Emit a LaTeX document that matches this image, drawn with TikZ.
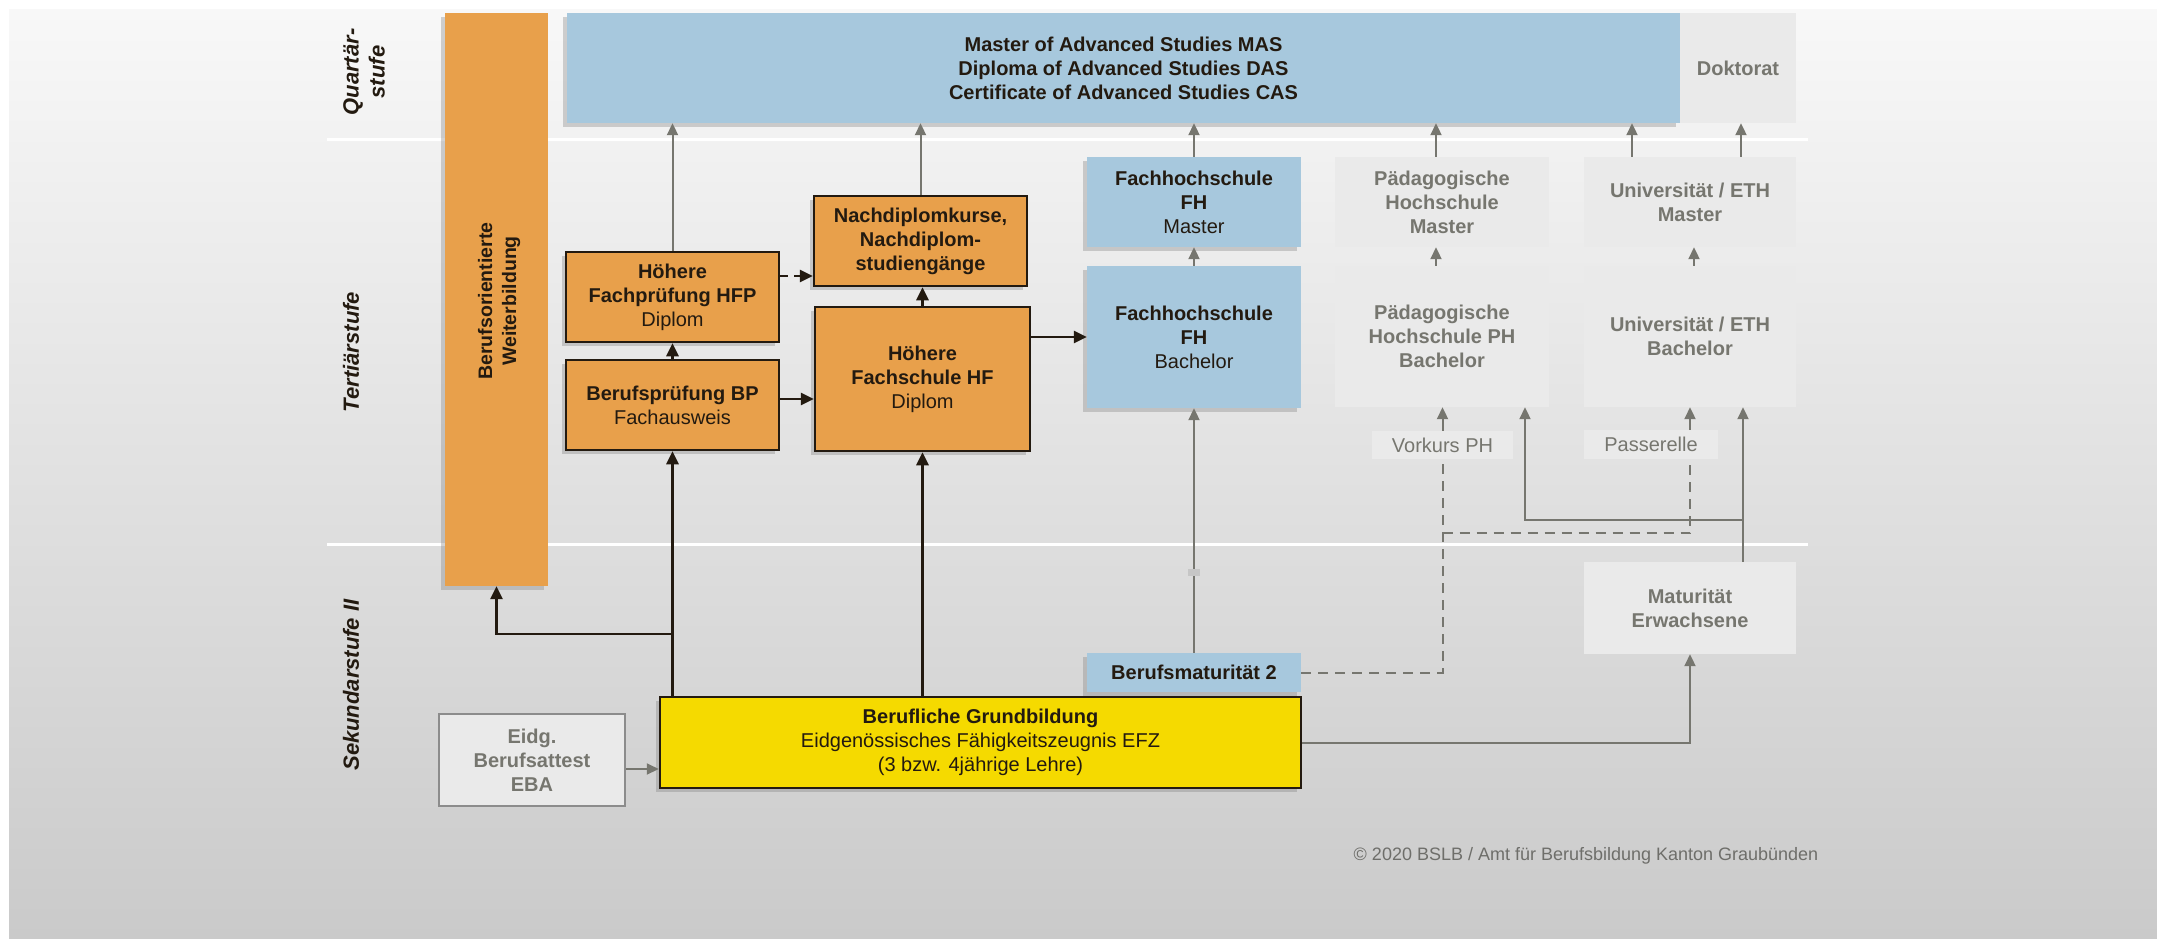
\documentclass[tikz,border=0pt]{standalone}
\usepackage{fontspec}
\setmainfont{Liberation Sans}
\usetikzlibrary{arrows.meta,shadows,calc}
\definecolor{orng}{HTML}{E8A04B}
\definecolor{blu}{HTML}{A7C8DD}
\definecolor{yel}{HTML}{F5DA00}
\definecolor{lgr}{HTML}{EAEAEA}
\definecolor{gtx}{HTML}{76766F}
\definecolor{garr}{HTML}{76766F}
\definecolor{dk}{HTML}{231A10}
\definecolor{gbrd}{HTML}{8C8C8C}
\definecolor{bgtop}{HTML}{F8F8F8}
\definecolor{bgbot}{HTML}{CACACA}
\definecolor{cpy}{HTML}{6E6E6A}
\tikzset{
  box/.style={rectangle, inner sep=0pt, align=center, text=dk, font=\fontsize{20}{24}\selectfont},
  shd/.style={drop shadow={shadow xshift=-4pt, shadow yshift=-4pt, opacity=0.35}},
  orbox/.style={box, fill=orng, draw=dk, line width=2.5pt, shd},
  blbox/.style={box, fill=blu, shd},
  yelbox/.style={box, fill=yel, draw=dk, line width=2.5pt, shd},
  lgbox/.style={box, fill=lgr, text=gtx},
  side/.style={rotate=90, align=center, text=dk, font=\bfseries\itshape\fontsize{22}{26}\selectfont},
  blk/.style={draw=dk, line width=2.8pt, -{Triangle[length=13pt,width=12pt]}},
  blkd/.style={blk, dash pattern=on 8pt off 6pt},
  gry/.style={draw=garr, line width=2pt, -{Triangle[length=12pt,width=11pt]}},
  gdash/.style={draw=garr, line width=2pt, dash pattern=on 10pt off 7pt},
  sep/.style={draw=white, line width=3pt}
}
\begin{document}
\begin{tikzpicture}[x=1pt,y=-1pt]
\useasboundingbox (0,0) rectangle (2157,939);
\fill[white] (0,0) rectangle (2157,939);
\shade[top color=bgtop, bottom color=bgbot] (9,10) rectangle (2157,939);
% separators
\draw[sep] (327,140) -- (1808,140);
\draw[sep] (327,544) -- (1808,544);
% side labels
\node[side] (lq) at (364,72) {Quartär-\\stufe};
\node[side] (lt) at (351,352) {Tertiärstufe};
\node[side] (ls) at (351,685) {Sekundarstufe II};
% boxes
\node[rectangle, fill=orng, minimum width=103pt, minimum height=573pt, shd] (bw) at (496.5,299.5) {};
\node[rotate=90, align=center, text=dk, font=\bfseries\fontsize{19.5}{24}\selectfont] (bwt) at (499,301) {Berufsorientierte\\Weiterbildung};
\node[blbox, minimum width=1113pt, minimum height=110pt] (mas) at (1123.5,68) {\textbf{Master of Advanced Studies MAS}\\\textbf{Diploma of Advanced Studies DAS}\\\textbf{Certificate of Advanced Studies CAS}};
\node[lgbox, minimum width=116pt, minimum height=110pt] (dok) at (1738,68) {\textbf{Doktorat}};
\node[orbox, minimum width=213pt, minimum height=90pt] (hfp) at (672.5,297) {\textbf{Höhere}\\\textbf{Fachprüfung HFP}\\Diplom};
\node[orbox, minimum width=213pt, minimum height=90pt] (bp) at (672.5,405) {\textbf{Berufsprüfung BP}\\Fachausweis};
\node[orbox, minimum width=213pt, minimum height=90pt] (nd) at (920.5,241) {\textbf{Nachdiplomkurse,}\\\textbf{Nachdiplom-}\\\textbf{studiengänge}};
\node[orbox, minimum width=215pt, minimum height=144pt] (hf) at (922.5,379) {\textbf{Höhere}\\\textbf{Fachschule HF}\\Diplom};
\node[blbox, minimum width=214pt, minimum height=90pt] (fhm) at (1194,202) {\textbf{Fachhochschule}\\\textbf{FH}\\Master};
\node[blbox, minimum width=214pt, minimum height=142pt] (fhb) at (1194,337) {\textbf{Fachhochschule}\\\textbf{FH}\\Bachelor};
\node[lgbox, minimum width=214pt, minimum height=90pt] (phm) at (1442,202) {\textbf{Pädagogische}\\\textbf{Hochschule}\\\textbf{Master}};
\node[lgbox, minimum width=214pt, minimum height=141pt] (phb) at (1442,336.5) {\textbf{Pädagogische}\\\textbf{Hochschule PH}\\\textbf{Bachelor}};
\node[lgbox, minimum width=212pt, minimum height=90pt] (um) at (1690,202) {\textbf{Universität / ETH}\\\textbf{Master}};
\node[lgbox, minimum width=212pt, minimum height=141pt] (ub) at (1690,336.5) {\textbf{Universität / ETH}\\\textbf{Bachelor}};
\node[lgbox, minimum width=141pt, minimum height=28pt] (vk) at (1442.5,445) {Vorkurs PH};
\node[lgbox, minimum width=134pt, minimum height=29pt] (pas) at (1651,444.5) {Passerelle};
\node[blbox, minimum width=214pt, minimum height=39pt] (bm2) at (1194,672.5) {\textbf{Berufsmaturität 2}};
\node[yelbox, minimum width=641pt, minimum height=91pt] (grund) at (980.5,742.5) {\textbf{Berufliche Grundbildung}\\Eidgenössisches Fähigkeitszeugnis EFZ\\(3 bzw. 4jährige Lehre)};
\node[lgbox, draw=gbrd, line width=2pt, minimum width=186pt, minimum height=92pt] (eba) at (532,760) {\textbf{Eidg.}\\\textbf{Berufsattest}\\\textbf{EBA}};
\node[lgbox, minimum width=212pt, minimum height=92pt] (mate) at (1690,608) {\textbf{Maturität}\\\textbf{Erwachsene}};
\node[font=\fontsize{18}{22}\selectfont, text=cpy, inner sep=0pt] (copy) at (1586,856) {© 2020 BSLB / Amt für Berufsbildung Kanton Graubünden};
% black connectors
\coordinate (j1) at (672.5,634);
\draw[blk] (grund.north -| bp.south) -- (bp.south);
\draw[blk] (j1) -| (bw.south);
\draw[blk] (grund.north -| hf.south) -- (hf.south);
\draw[blk] (bp.north) -- (hfp.south);
\draw[blk] (bp.east |- 0,399) -- (hf.west |- 0,399);
\draw[blk] (hf.north) -- (hf.north |- nd.south);
\draw[blkd] (hfp.east |- 0,276) -- (nd.west |- 0,276);
\draw[blk] (hf.east |- fhb.west) -- (fhb.west);
% gray connectors
\draw[gry] (hfp.north) -- (hfp.north |- mas.south);
\draw[gry] (nd.north) -- (nd.north |- mas.south);
\draw[gry] (fhm.north) -- (fhm.north |- mas.south);
\draw[gry] (fhb.north) -- (fhm.south);
\draw[gry] (bm2.north) -- (fhb.south);
\draw[gry] ([xshift=-6pt]phm.north) -- ([xshift=-6pt]phm.north |- mas.south);
\draw[gry] ([xshift=-6pt]phb.north) -- ([xshift=-6pt]phm.south);
\draw[gry] ([xshift=-58pt]um.north) -- ([xshift=-58pt]um.north |- mas.south);
\draw[gry] ([xshift=51pt]um.north) -- ([xshift=51pt]um.north |- dok.south);
\draw[gry] ([xshift=4pt]ub.north) -- ([xshift=4pt]um.south);
\draw[gry] (vk.north) -- (vk.north |- phb.south);
\draw[gry] (ub.south |- pas.north) -- (ub.south);
\draw[gry] ([xshift=53pt]mate.north) -- ([xshift=53pt]ub.south);
\coordinate (j2) at (1743,520);
\draw[gry] (j2) -| ([xshift=83pt]phb.south);
\draw[gry] (grund.east) -| (mate.south);
\draw[gry] ([yshift=-9pt]eba.east) -- ([yshift=-9pt]eba.east -| grund.west);
\draw[gdash] (bm2.east) -| (vk.south);
\draw[gdash] (vk.south |- 0,533) -| (ub.south |- pas.south);
\fill[gray!45] (1188,569) rectangle (1200,576);
\end{tikzpicture}
\end{document}
